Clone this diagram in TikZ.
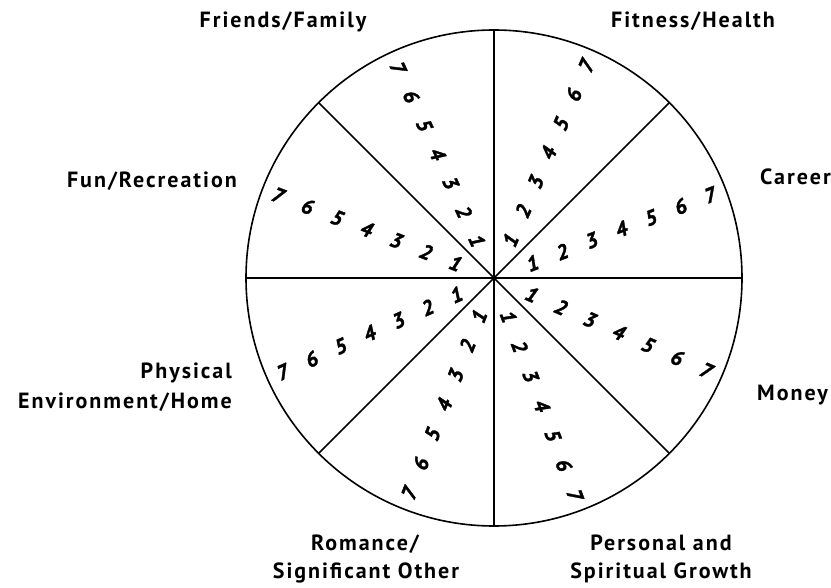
\documentclass[tikz,border=0pt]{standalone}
\usepackage{fontspec}
\setmainfont{PT Sans}
\newfontfamily\lblfont[LetterSpace=9]{PT Sans}
\newfontfamily\numfont[FakeBold=1.6]{PT Sans}
\begin{document}
\begin{tikzpicture}[x=1pt,y=-1pt,
  lbl/.style={inner sep=0pt,font=\lblfont\bfseries\fontsize{22}{26}\selectfont},
  num/.style={inner sep=0pt,font=\numfont\bfseries\itshape\fontsize{21}{24}\selectfont},
  mainspoke/.style={line width=2.4pt},
  diagspoke/.style={line width=1.5pt},
  rim/.style={line width=1.6pt}]
\useasboundingbox (0,0) rectangle (831,588);
\coordinate (c) at (494,278);
\draw[rim] (c) circle[radius=248];
\coordinate (pN) at (494,30);
\coordinate (pS) at (494,526);
\coordinate (pE) at (742,278);
\coordinate (pW) at (246,278);
\coordinate (pNE) at ({494+248*cos(45)},{278-248*sin(45)});
\coordinate (pNW) at ({494-248*cos(45)},{278-248*sin(45)});
\coordinate (pSE) at ({494+248*cos(45)},{278+248*sin(45)});
\coordinate (pSW) at ({494-248*cos(45)},{278+248*sin(45)});
\draw[mainspoke] (pN) -- (pS);
\draw[mainspoke] (pW) -- (pE);
\draw[diagspoke] (pNE) -- (pSW);
\draw[diagspoke] (pNW) -- (pSE);
\fill (c) circle[radius=2.2];
% numbers: sector name / ray angle / text rotation
\foreach \s/\a/\r in {car/21/21, fit/66.5/66.5, fri/114.5/-65.5, fun/159/-21,
                      phy/204/24, rom/248.5/68.5, per/-69.5/-69.5, mon/-23.5/-23.5}{
  \foreach \k in {1,...,7}{
    \node[num,rotate=\r] (n-\s-\k) at ({494+(9.5+31.7*\k)*cos(\a)},{278-(9.5+31.7*\k)*sin(\a)}) {\k};
  }
}
% labels
\node[lbl,anchor=base] (lfri) at (283,28) {Friends/Family};
\node[lbl,anchor=base] (lfit) at (693,28) {Fitness/Health};
\node[lbl,anchor=base west] (lcar) at (760,185) {Career};
\node[lbl,anchor=base east] (lfun) at (237,188) {Fun/Recreation};
\node[lbl,anchor=base east] (lphy1) at (232,378) {Physical};
\node[lbl,anchor=base east] (lphy2) at (232,408) {Environment/Home};
\node[lbl,anchor=base west] (lmon) at (757,401) {Money};
\node[lbl,anchor=base] (lrom1) at (365,550) {Romance/};
\node[lbl,anchor=base] (lrom2) at (366,578) {Significant Other};
\node[lbl,anchor=base] (lper1) at (661,550) {Personal and};
\node[lbl,anchor=base] (lper2) at (661,578) {Spiritual Growth};
\end{tikzpicture}
\end{document}
